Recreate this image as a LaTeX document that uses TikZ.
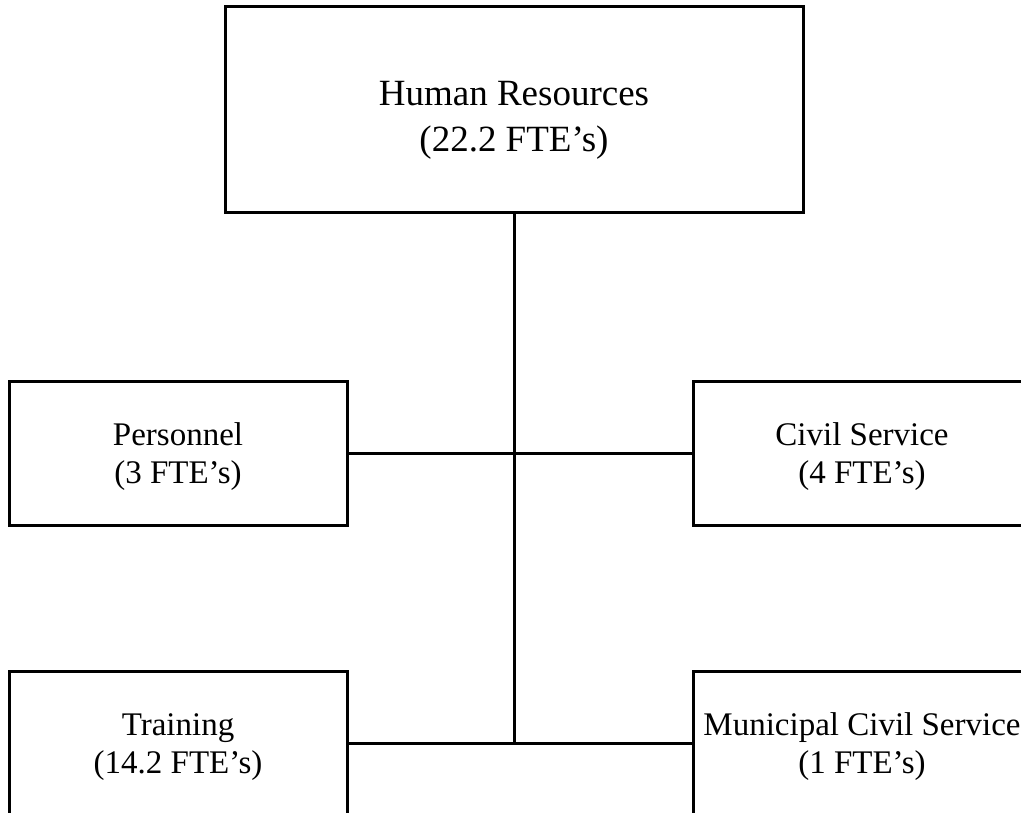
\documentclass[tikz,border=0pt]{standalone}
\usepackage{fontspec}
\setmainfont{Liberation Serif}
\begin{document}
\begin{tikzpicture}[x=1pt,y=-1pt,
  unitbox/.style={draw=black, line width=3pt, rectangle, inner sep=0pt,
    minimum width=338pt, minimum height=144pt},
  headbox/.style={unitbox, minimum width=578pt, minimum height=206pt},
  unitlabel/.style={align=center, inner sep=0pt, yshift=-4pt,
    font=\fontsize{33}{38}\selectfont},
  headlabel/.style={unitlabel, yshift=-6pt, font=\fontsize{37}{46}\selectfont},
  link/.style={line width=3pt}]
  % page frame
  \fill[white] (0,0) rectangle (1021,813);
  \useasboundingbox (0,0) rectangle (1021,813);
  \clip (0,0) rectangle (1021,813);

  % head of department
  \node[headbox] (hr) at (514,110) {};
  \node[headlabel] (hrtext) at (hr.center) {Human Resources\\(22.2 FTE’s)};

  % divisions
  \node[unitbox] (pers)  at (178,453) {};
  \node[unitbox] (civil) at (862,453) {};
  \node[unitbox] (train) at (178,743) {};
  \node[unitbox] (muni)  at (862,743) {};
  \node[unitlabel] (perstext)  at (pers.center)  {Personnel\\(3 FTE’s)};
  \node[unitlabel] (civiltext) at (civil.center) {Civil Service\\(4 FTE’s)};
  \node[unitlabel] (traintext) at (train.center) {Training\\(14.2 FTE’s)};
  \node[unitlabel] (munitext)  at (muni.center)  {Municipal Civil Service\\(1 FTE’s)};

  % connectors
  \coordinate (spine) at (hr.south |- train.east);
  \draw[link] (hr.south) -- (spine);
  \draw[link] (pers.east) -- (civil.west);
  \draw[link] (train.east) -- (muni.west);
\end{tikzpicture}
\end{document}
